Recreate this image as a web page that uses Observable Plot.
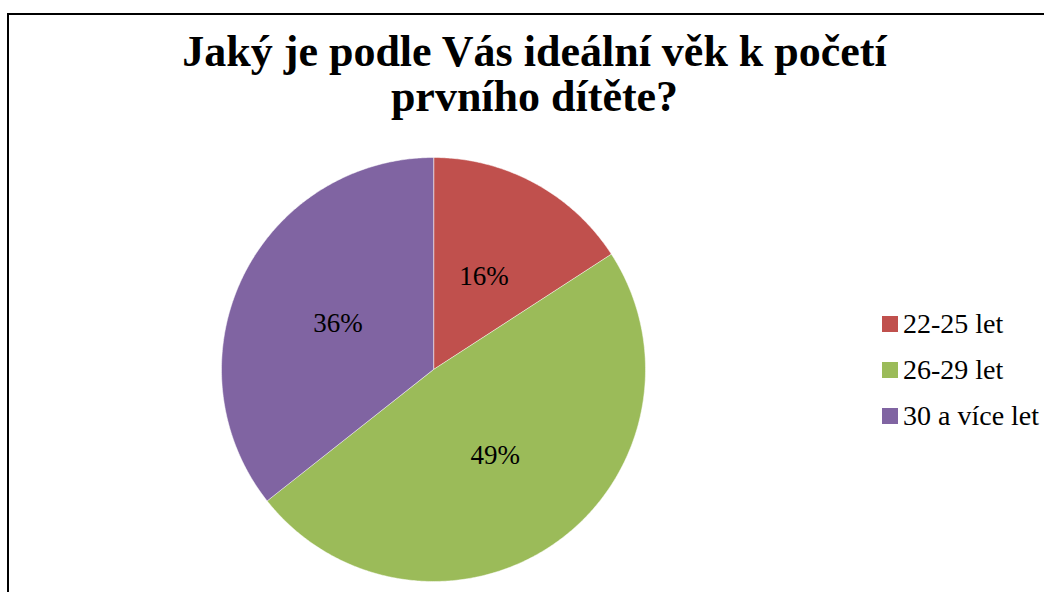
<!DOCTYPE html>
<html>
<head>
<meta charset="utf-8">
<script src="https://cdn.jsdelivr.net/npm/d3@7"></script>
<script src="https://cdn.jsdelivr.net/npm/@observablehq/plot@0.6"></script>
<style>
html, body { margin: 0; padding: 0; background: #fff; }
#wrap { position: relative; width: 1044px; height: 592px; overflow: hidden; }
#border { position: absolute; left: 7px; top: 13px; width: 1200px; height: 800px;
  border-top: 2px solid #000; border-left: 2px solid #000; pointer-events: none; }
#legend { position: absolute; left: 882px; top: 301px; }
#legend, #legend * { font-family: "Liberation Serif", "Times New Roman", serif !important; }
#legend .leg-swatches { font-size: 28px !important; color: #000 !important; margin: 0 !important; min-height: 0 !important; }
#legend .leg-swatch { height: 46px !important; padding: 0 !important; display: flex !important; align-items: center !important; font-size: 28px !important; }
#legend .leg-swatch > svg { margin-right: 5px !important; }
#legend .leg-swatch-label { overflow: visible !important; white-space: nowrap; }
</style>
</head>
<body>
<div id="wrap">
  <div id="chart"></div>
  <div id="legend"></div>
  <div id="border"></div>
</div>
<script>
const titleLines = ["Jaký je podle Vás ideální věk k početí", "prvního dítěte?"];
const categories = ["22-25 let", "26-29 let", "30 a více let"];
const values = [16, 49, 36];
const labels = ["16%", "49%", "36%"];
const colors = ["#C0504D", "#9BBB59", "#8064A2"];

const arcs = d3.pie().sort(null).value(d => d)(values);
const slicePts = [];
arcs.forEach((a, i) => {
  slicePts.push({key: categories[i], x: 0, y: 0});
  const n = Math.max(2, Math.ceil((a.endAngle - a.startAngle) / (Math.PI / 360)));
  for (let k = 0; k <= n; k++) {
    const t = a.startAngle + (a.endAngle - a.startAngle) * k / n;
    slicePts.push({key: categories[i], x: Math.sin(t), y: Math.cos(t)});
  }
});
const labelPts = arcs.map((a, i) => {
  const m = (a.startAngle + a.endAngle) / 2;
  return {text: labels[i], x: 0.5 * Math.sin(m), y: 0.5 * Math.cos(m)};
});

const serif = "Liberation Serif";
const chart = Plot.plot({
  width: 1044, height: 592, margin: 0,
  x: {domain: [-1, 1], range: [221, 645], axis: null},
  y: {domain: [-1, 1], range: [581, 157], axis: null},
  color: {domain: categories, range: colors},
  style: {background: "transparent", fontFamily: serif, color: "#000"},
  marks: [
    Plot.line(slicePts, {x: "x", y: "y", z: "key", fill: "key", stroke: "#fff", strokeWidth: 0.5, curve: "linear-closed"}),
    Plot.text(labelPts, {x: "x", y: "y", text: "text", fontSize: 27, fontFamily: serif, fill: "#000", lineAnchor: "middle"}),
    Plot.text([titleLines[0]], {frameAnchor: "top", dx: 12, dy: 51, text: d => d, fontSize: 44, fontFamily: serif, fontWeight: "bold", fill: "#000", lineAnchor: "middle"}),
    Plot.text([titleLines[1]], {frameAnchor: "top", dx: 12, dy: 96, text: d => d, fontSize: 44, fontFamily: serif, fontWeight: "bold", fill: "#000", lineAnchor: "middle"})
  ]
});
document.getElementById("chart").appendChild(chart);

const legend = Plot.legend({
  color: {type: "ordinal", domain: categories, range: colors},
  legend: "swatches", columns: 1, swatchSize: 16, className: "leg",
  style: {fontFamily: serif, fontSize: "28px", color: "#000"}
});
document.getElementById("legend").appendChild(legend);
</script>
</body>
</html>
